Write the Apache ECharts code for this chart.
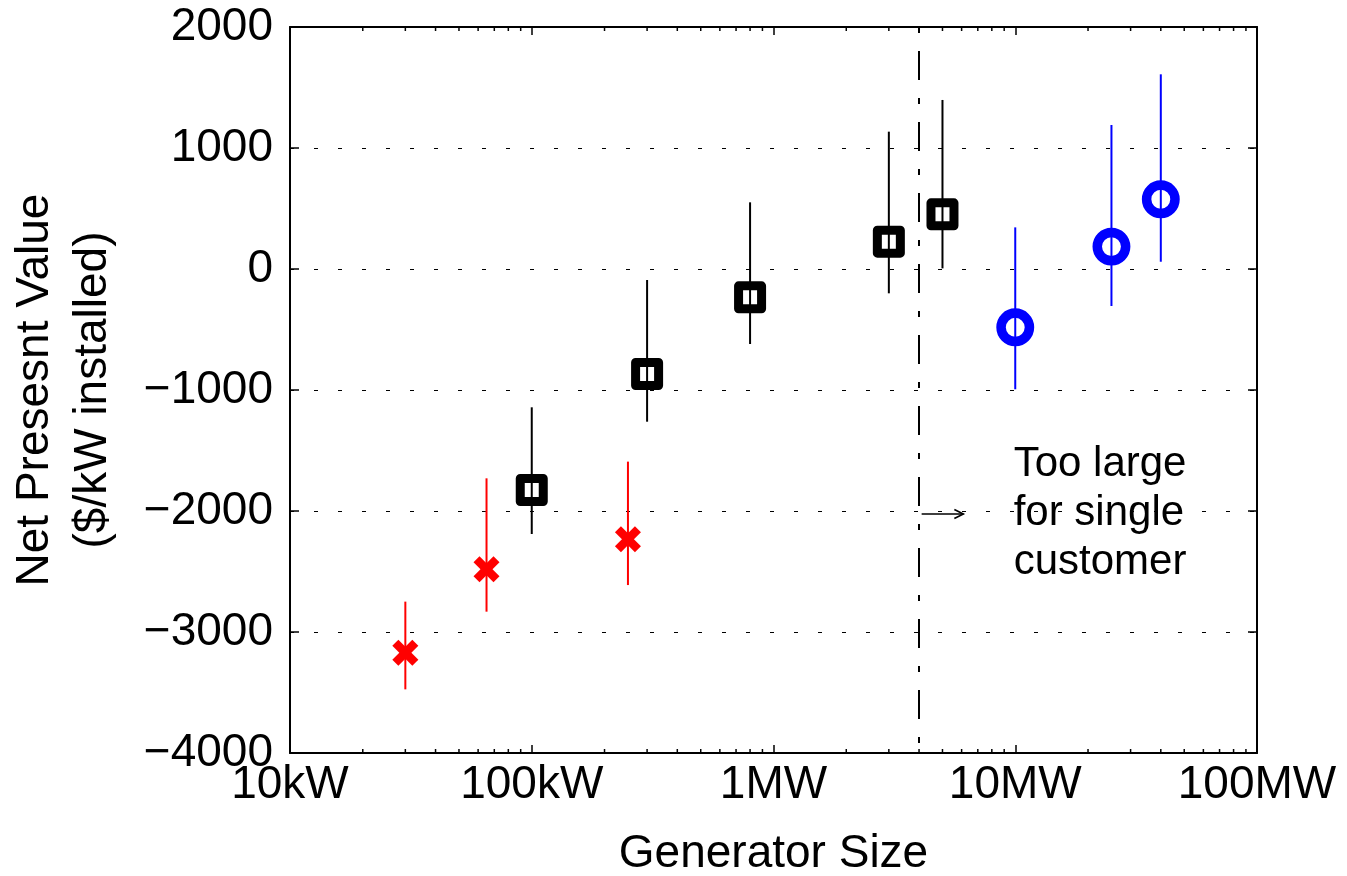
<!DOCTYPE html>
<html><head><meta charset="utf-8">
<script src="https://cdn.jsdelivr.net/npm/echarts@6/dist/echarts.min.js"></script>
<style>
html,body{margin:0;padding:0;background:#fff;width:1347px;height:876px;overflow:hidden}
#c{position:absolute;left:0;top:0;width:1347px;height:876px}
</style>
</head><body><div id="c"></div>
<script>
// ---- data (generator size in kW, NPV in $/kW installed) ----
const xTickValues = [10, 100, 1000, 10000, 100000];
const xTickLabels = ['10kW', '100kW', '1MW', '10MW', '100MW'];
const yMin = -4000, yMax = 2000, yStep = 1000;

const smallSize = [30, 65, 250];
const smallMean = [-3171, -2482, -2234];
const smallLow  = [-3474, -2832, -2612];
const smallHigh = [-2749, -1730, -1592];

const midSize = [100, 300, 800, 3000, 5000];
const midMean = [-1826, -868, -234, 226, 452];
const midLow  = [-2190, -1262, -620, -201, 5];
const midHigh = [-1143, -91, 551, 1135, 1397];

const largeSize = [10000, 25000, 40000];
const largeMean = [-482, 185, 576];
const largeLow  = [-994, -306, 60];
const largeHigh = [344, 1190, 1609];

const cutoffSize = 4000;
const noteLines = ['Too large', 'for single', 'customer'];
const noteAnchor = [9850, -2017];
const arrowFrom = [4100, -2025];
const arrowTo = [6100, -2025];

const FONT = '"Liberation Sans", Arial, Helvetica, sans-serif';

function rows(s, m, l, h) { return s.map((v, i) => [v, m[i], l[i], h[i]]); }

function errRender(color, marker) {
  return function (params, api) {
    const x = api.value(0);
    const c = api.coord([x, api.value(1)]);
    const lo = api.coord([x, api.value(2)]);
    const hi = api.coord([x, api.value(3)]);
    const children = [{
      type: 'line',
      shape: { x1: lo[0], y1: lo[1], x2: hi[0], y2: hi[1] },
      style: { stroke: color, lineWidth: 2 }
    }];
    if (marker === 'square') {
      children.push({
        type: 'rect',
        shape: { x: c[0] - 11.5, y: c[1] - 11.5, width: 23, height: 23 },
        style: { fill: 'none', stroke: color, lineWidth: 9, lineJoin: 'round' }
      });
    } else if (marker === 'circle') {
      children.push({
        type: 'circle',
        shape: { cx: c[0], cy: c[1], r: 14.2 },
        style: { fill: 'none', stroke: color, lineWidth: 9.5 }
      });
    } else {
      const a = 10;
      children.push({
        type: 'line', shape: { x1: c[0] - a, y1: c[1] - a, x2: c[0] + a, y2: c[1] + a },
        style: { stroke: color, lineWidth: 8.5 }
      });
      children.push({
        type: 'line', shape: { x1: c[0] - a, y1: c[1] + a, x2: c[0] + a, y2: c[1] - a },
        style: { stroke: color, lineWidth: 8.5 }
      });
    }
    return { type: 'group', children: children };
  };
}

// minor log ticks (axis decoration)
const minorTicks = [];
for (let d = 10; d < 100000; d *= 10) {
  for (let k = 2; k <= 9; k++) minorTicks.push([d * k]);
}

const chart = echarts.init(document.getElementById('c'), null, { renderer: 'canvas', width: 1347, height: 876 });

const baseX = {
  type: 'log', logBase: 10, min: 10, max: 100000,
  axisLine: { show: true, onZero: false, lineStyle: { color: '#000', width: 2 } },
  axisTick: { show: true, inside: true, length: 8, lineStyle: { color: '#000', width: 1.5 } },
  splitLine: { show: false },
  minorTick: { show: false },
  minorSplitLine: { show: false }
};
const baseY = {
  type: 'value', min: yMin, max: yMax, interval: yStep,
  axisLine: { show: true, onZero: false, lineStyle: { color: '#000', width: 2 } },
  axisTick: { show: true, inside: true, length: 9, lineStyle: { color: '#000', width: 1.5 } }
};

chart.setOption({
  animation: false,
  backgroundColor: '#fff',
  grid: { left: 290, top: 27, width: 967, height: 726, containLabel: false, outerBoundsMode: 'none' },
  xAxis: [
    Object.assign({}, baseX, {
      position: 'bottom',
      name: 'Generator Size', nameLocation: 'middle', nameGap: 76,
      nameTextStyle: { color: '#000', fontSize: 46, fontFamily: FONT, lineHeight: 50 },
      axisLabel: {
        color: '#000', fontSize: 46, fontFamily: FONT, margin: 9, lineHeight: 46,
        formatter: function (v) {
          for (let i = 0; i < xTickValues.length; i++) {
            if (Math.abs(Math.log10(v) - Math.log10(xTickValues[i])) < 1e-6) return xTickLabels[i];
          }
          return '';
        }
      }
    }),
    Object.assign({}, baseX, { position: 'top', axisLabel: { show: false } })
  ],
  yAxis: [
    Object.assign({}, baseY, {
      position: 'left',
      name: 'Net Presesnt Value\n($/kW installed)', nameLocation: 'middle', nameGap: 168, nameRotate: 90,
      nameTextStyle: { color: '#000', fontSize: 46, fontFamily: FONT, lineHeight: 58 },
      axisLabel: {
        color: '#000', fontSize: 46, fontFamily: FONT, margin: 17,
        formatter: function (v) { return v < 0 ? '\u2212' + Math.abs(v) : String(v); }
      },
      splitLine: { show: true, lineStyle: { color: '#000', width: 1.2, type: [4, 20] } }
    }),
    Object.assign({}, baseY, { position: 'right', axisLabel: { show: false }, splitLine: { show: false } })
  ],
  series: [
    {
      type: 'custom', name: 'minor', data: minorTicks, silent: true, z: 1,
      encode: { x: 0 },
      renderItem: function (params, api) {
        const v = api.value(0);
        const b = api.coord([v, yMin]);
        const t = api.coord([v, yMax]);
        return { type: 'group', children: [
          { type: 'line', shape: { x1: b[0], y1: b[1], x2: b[0], y2: b[1] - 4 }, style: { stroke: '#000', lineWidth: 1.5 } },
          { type: 'line', shape: { x1: t[0], y1: t[1], x2: t[0], y2: t[1] + 4 }, style: { stroke: '#000', lineWidth: 1.5 } }
        ] };
      }
    },
    {
      type: 'custom', name: 'small', data: rows(smallSize, smallMean, smallLow, smallHigh),
      encode: { x: 0, y: [1, 2, 3] }, renderItem: errRender('#ff0000', 'x'), z: 3,
      markLine: {
        silent: true, symbol: ['none', 'none'], label: { show: false },
        lineStyle: { color: '#000', width: 2, type: [29, 18, 6, 18], dashOffset: 47 },
        data: [[{ coord: [cutoffSize, yMax] }, { coord: [cutoffSize, yMin] }]]
      }
    },
    {
      type: 'custom', name: 'mid', data: rows(midSize, midMean, midLow, midHigh),
      encode: { x: 0, y: [1, 2, 3] }, renderItem: errRender('#000000', 'square'), z: 3
    },
    {
      type: 'custom', name: 'large', data: rows(largeSize, largeMean, largeLow, largeHigh),
      encode: { x: 0, y: [1, 2, 3] }, renderItem: errRender('#0000ff', 'circle'), z: 3
    },
    {
      type: 'custom', name: 'note', silent: true, z: 4,
      data: [[arrowFrom[0], arrowFrom[1], arrowTo[0], arrowTo[1], noteAnchor[0], noteAnchor[1]]],
      encode: { x: [0, 2], y: [1, 3] },
      renderItem: function (params, api) {
        const p0 = api.coord([api.value(0), api.value(1)]);
        const p1 = api.coord([api.value(2), api.value(3)]);
        const tp = api.coord([api.value(4), api.value(5)]);
        return { type: 'group', children: [
          { type: 'line', shape: { x1: p0[0], y1: p0[1], x2: p1[0], y2: p1[1] }, style: { stroke: '#000', lineWidth: 1.6 } },
          { type: 'polyline', shape: { points: [[p1[0] - 9, p1[1] - 4.5], [p1[0], p1[1]], [p1[0] - 9, p1[1] + 4.5]] },
            style: { stroke: '#000', lineWidth: 1.6, fill: 'none' } },
          { type: 'text', x: tp[0], y: tp[1],
            style: { text: noteLines.join('\n'), x: 0, y: 0, align: 'left', verticalAlign: 'middle',
              font: '42px ' + FONT, lineHeight: 49, fill: '#000' } }
        ] };
      }
    }
  ]
});
</script></body></html>
